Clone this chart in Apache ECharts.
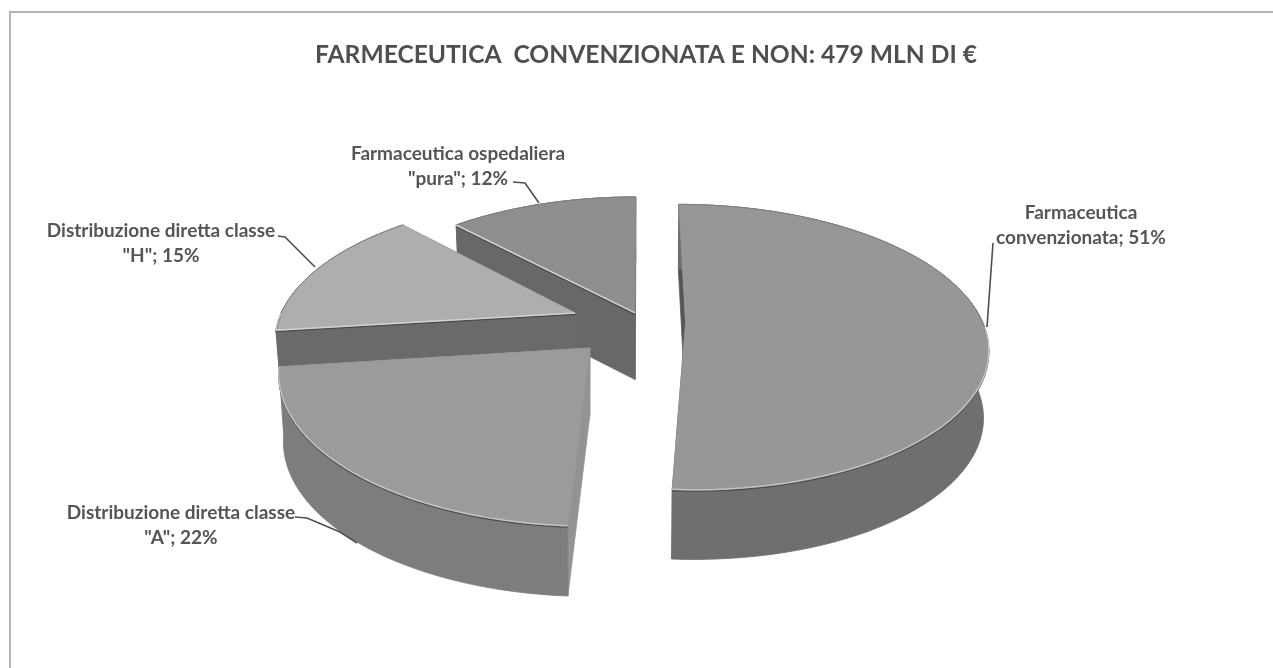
<!DOCTYPE html>
<html><head><meta charset="utf-8">
<style>html,body{margin:0;padding:0;background:#fff}#c{width:1273px;height:668px}</style>
<script src="https://cdn.jsdelivr.net/npm/echarts@6/dist/echarts.min.js"></script>
</head><body><div id="c"></div>
<script>
const titleText = 'FARMECEUTICA  CONVENZIONATA E NON: 479 MLN DI €';
const categories = ['Farmaceutica\nconvenzionata', 'Distribuzione diretta classe\n"A"', 'Distribuzione diretta classe\n"H"', 'Farmaceutica ospedaliera\n"pura"'];
const values = [51, 22, 15, 12];

// Presentation of each slice, same order as the data
const explode = [[0.153, -0.05], [0.016, 0.125], [-0.221, -0.124], [-0.017, -0.124]];
const viewX = [640, 585, 640, 640];
const topColor = ['#979797', '#9b9b9b', '#aeaeae', '#8e8e8e'];
const rimColor = ['#6f6f6f', '#7d7d7d', '#6a6a6a', '#686868'];
const cutColor = ['#555555', '#939393', '#6a6a6a', '#686868'];
const stack = [1, 3, 2, 0];
const labelBox = [[1081, 225], [181, 525], [161, 243], [458, 166]];
const leaders = [
  [[993, 243], [987, 327]],
  [[295, 517], [307, 518], [340, 532], [357, 543]],
  [[278, 236], [285, 237], [315, 267]],
  [[513, 182], [525, 183], [539, 203]]
];

const CY = 330, R = 300, RY = 141, K = 0.17;
const project = (cx, X, Y, low) => {
  const w = 1 / (1 - K * Y);
  const y = CY + RY * Y * w + (low ? 53 + 14 * w : 0);
  return [cx + R * X * w * (low ? 0.985 : 1), y];
};
const total = values.reduce((a, b) => a + b, 0);

function renderItem(params, api) {
  const i = params.dataIndex;
  const before = values.slice(0, i).reduce((a, b) => a + b, 0);
  const a0 = before / total * 2 * Math.PI;
  const a1 = (before + api.value(0)) / total * 2 * Math.PI;
  const [ox, oy] = explode[i];
  const pt = (a, low) => project(viewX[i], ox + Math.sin(a), oy - Math.cos(a), low);
  const apex = low => project(viewX[i], ox, oy, low);
  const n = 80, arcT = [], arcB = [], front = [];
  for (let s = 0; s <= n; s++) {
    const a = a0 + (a1 - a0) * s / n;
    arcT.push(pt(a, false));
    arcB.push(pt(a, true));
    if (-Math.cos(a) > 0) front.push(pt(a, false));
  }
  const z = stack[i] * 10;
  const poly = (points, fill, zz) => ({ type: 'polygon', z2: z + zz, shape: { points },
    style: { fill, stroke: fill, lineWidth: 0.8 } });
  const line = (points, stroke, w, zz) => ({ type: 'polyline', z2: z + zz, shape: { points },
    style: { fill: 'none', stroke, lineWidth: w } });
  const children = [
    poly([apex(false), pt(a0, false), pt(a0, true), apex(true)], cutColor[i], 1),
    poly([apex(false), pt(a1, false), pt(a1, true), apex(true)], cutColor[i], 1),
    poly(arcT.concat(arcB.slice().reverse()), rimColor[i], 2),
    poly([apex(false)].concat(arcT), topColor[i], 3),
    line(arcT, '#7d7d7d', 1, 4)
  ];
  if (front.length) {
    children.push(line(front.map(p => [p[0], p[1] + 1.5]), '#4e4e4e', 1.2, 5));
    children.push(line(front, '#c4c4c4', 1.5, 6));
  }
  const normal = a0 - Math.PI / 2;
  if (-Math.cos(normal) > 0.3) {
    const e = [apex(false), pt(a0, false)];
    children.push(line(e.map(p => [p[0], p[1] + 1.5]), '#4a4a4a', 1.2, 5));
    children.push(line(e, '#d2d2d2', 1.5, 6));
  }
  return { type: 'group', children };
}

const graphic = [
  { type: 'polyline', shape: { points: [[1273, 12], [10, 12], [10, 668]] }, style: { fill: 'none', stroke: '#b4b4b4', lineWidth: 2 } }
];
categories.forEach((c, i) => {
  graphic.push({ type: 'polyline', z: 20, shape: { points: leaders[i] }, style: { fill: 'none', stroke: '#505050', lineWidth: 1.6 } });
  graphic.push({ type: 'text', z: 20, x: labelBox[i][0], y: labelBox[i][1],
    style: { text: c + '; ' + values[i] + '%', fill: '#555555', align: 'center', verticalAlign: 'middle',
      font: 'bold 19px Lato, "Open Sans", sans-serif', lineHeight: 25 } });
});

const chart = echarts.init(document.getElementById('c'), null, { renderer: 'canvas' });
chart.setOption({
  backgroundColor: '#ffffff',
  animation: false,
  title: { text: titleText, left: 641, top: 38, textAlign: 'center',
    textStyle: { color: '#4f4f4f', fontFamily: 'Lato', fontWeight: 'bold', fontSize: 24.6 } },
  series: [{ type: 'custom', coordinateSystem: 'none', renderItem, data: values.map((v, i) => ({ name: categories[i], value: [v] })), silent: true }],
  graphic
});
</script></body></html>
